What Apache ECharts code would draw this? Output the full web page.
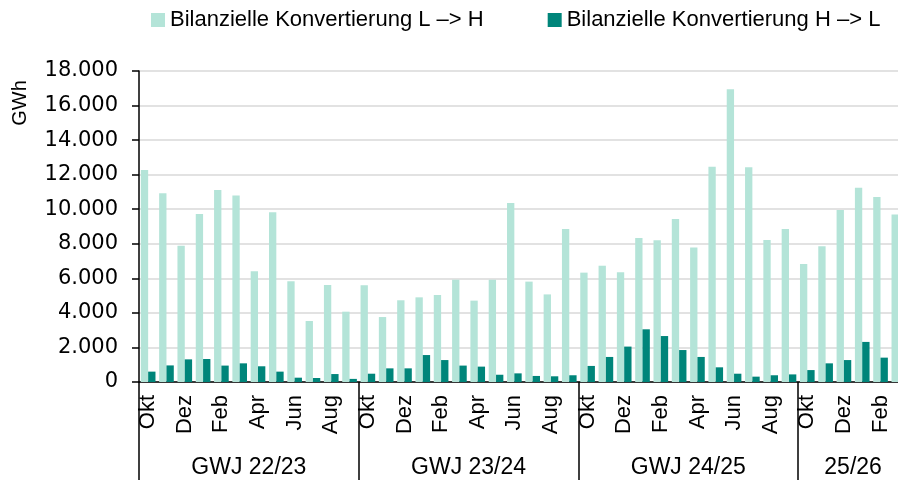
<!DOCTYPE html>
<html>
<head>
<meta charset="utf-8">
<script src="https://cdn.jsdelivr.net/npm/echarts@6/dist/echarts.min.js"></script>
<style>
html,body{margin:0;padding:0;background:#fff;}
#chart{width:898px;height:480px;}
</style>
</head>
<body>
<div id="chart"></div>
<script>
const monthNames = ['Okt','Nov','Dez','Jan','Feb','Mär','Apr','Mai','Jun','Jul','Aug','Sep'];
const groupLabels = ['GWJ 22/23','GWJ 23/24','GWJ 24/25','25/26'];
const groupSizes = [12,12,12,6];
const seriesNames = ['Bilanzielle Konvertierung L –> H','Bilanzielle Konvertierung H –> L'];
const unitName = 'GWh';
const valuesLH = [12270,10920,7890,9720,11110,10800,6410,9820,5830,3530,5610,4070,
                  5600,3760,4730,4900,5040,5920,4710,5920,10360,5810,5070,8860,
                  6330,6730,6350,8340,8200,9430,7790,12460,16940,12430,8220,8860,
                  6830,7850,9960,11250,10710,9690];
const valuesHL = [600,960,1310,1330,950,1080,910,600,250,230,460,180,
                  480,790,790,1560,1270,950,890,420,500,350,330,390,
                  930,1450,2050,3050,2660,1850,1450,850,480,310,390,440,
                  690,1080,1270,2320,1410,1000];
const yTicks = [0,2000,4000,6000,8000,10000,12000,14000,16000,18000];

// build categories
const months = [];
groupSizes.forEach(n => { for (let i = 0; i < n; i++) months.push(monthNames[i]); });
const total = months.length;
const groupAxisData = new Array(total + 1).fill('');
const boundaries = [];
let start = 0;
groupSizes.forEach((n, g) => {
  boundaries.push(start);
  groupAxisData[start + n / 2] = groupLabels[g];
  start += n;
});
boundaries.push(start);

const chart = echarts.init(document.getElementById('chart'), null, {renderer: 'canvas'});
const fmt = v => String(v).replace(/\B(?=(\d{3})+(?!\d))/g, '.');
const yMin = yTicks[0], yMax = yTicks[yTicks.length - 1], yStep = yTicks[1] - yTicks[0];

chart.setOption({
  animation: false,
  backgroundColor: '#fff',
  color: ['#b4e4d8', '#00857a'],
  legend: {
    top: 9, left: 151, padding: 0,
    itemWidth: 14, itemHeight: 14, itemGap: 64,
    icon: 'rect',
    textStyle: {fontFamily: 'Liberation Sans', fontSize: 22, color: '#000'},
    data: seriesNames
  },
  grid: {left: 139, width: 769, top: 71, bottom: 98, containLabel: false, outerBoundsMode: 'none'},
  xAxis: [{
    type: 'category',
    data: months,
    axisLine: {lineStyle: {color: '#000', width: 1.5}},
    axisTick: {show: false},
    axisLabel: {
      interval: 1, rotate: 90, margin: 13,
      fontFamily: 'Liberation Sans', fontSize: 22, color: '#000'
    }
  }, {
    type: 'category',
    position: 'bottom',
    boundaryGap: false,
    data: groupAxisData,
    axisLine: {show: false},
    axisTick: {
      show: true, length: 100,
      interval: (idx) => boundaries.indexOf(idx) >= 0,
      lineStyle: {color: '#000', width: 1.5}
    },
    axisLabel: {
      interval: 0, margin: 74,
      fontFamily: 'Liberation Sans', fontSize: 23, color: '#000'
    }
  }],
  yAxis: [{
    type: 'value',
    min: yMin, max: yMax, interval: yStep,
    axisLine: {show: true, lineStyle: {color: '#000', width: 1.5}},
    axisTick: {show: true, length: 7, lineStyle: {color: '#000', width: 1.5}},
    axisLabel: {
      margin: 21, formatter: fmt,
      fontFamily: 'DejaVu Sans', fontSize: 21, color: '#000'
    },
    splitLine: {lineStyle: {color: '#d9d9d9', width: 1.5}}
  }, {
    type: 'value',
    position: 'left',
    offset: 119,
    min: yMin, max: yMax, interval: yStep,
    name: unitName,
    nameLocation: 'end',
    nameRotate: 90,
    nameGap: -32,
    nameTextStyle: {fontFamily: 'Liberation Sans', fontSize: 20, color: '#000',
                    align: 'center', verticalAlign: 'middle'},
    axisLine: {show: false},
    axisTick: {show: false},
    axisLabel: {show: false},
    splitLine: {show: false}
  }],
  series: [{
    name: seriesNames[0], type: 'bar', data: valuesLH,
    barGap: '0%', barCategoryGap: '20%'
  }, {
    name: seriesNames[1], type: 'bar', data: valuesHL,
    barGap: '0%', barCategoryGap: '20%'
  }]
});
</script>
</body>
</html>
